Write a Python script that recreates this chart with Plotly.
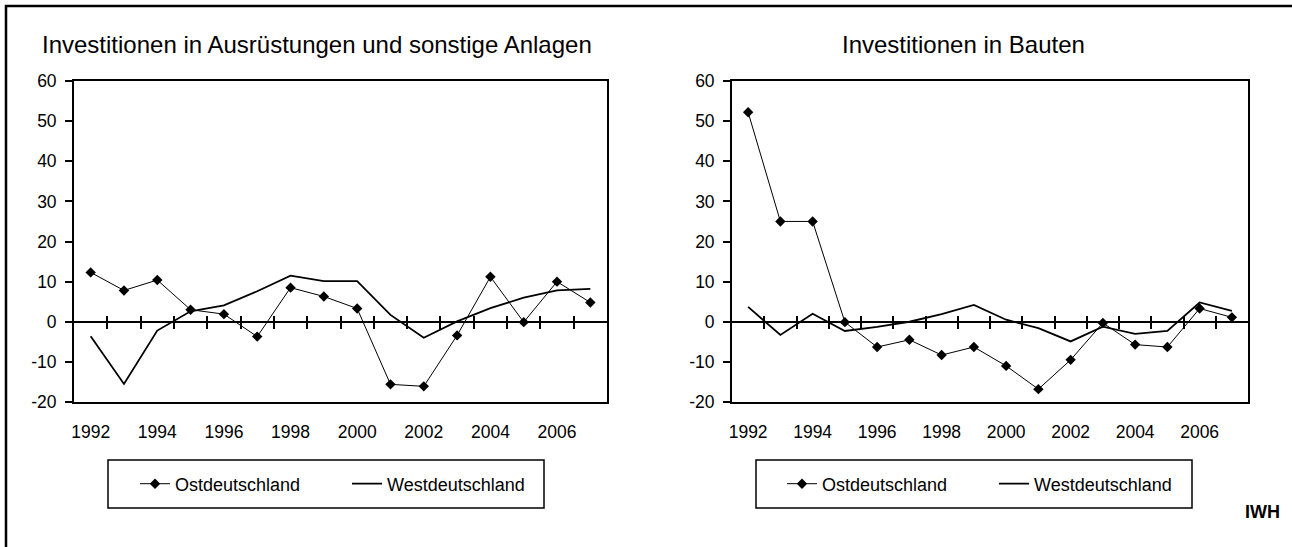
import plotly.graph_objects as go

# Daten (Veränderung gegenüber Vorjahr in %)
jahre = list(range(1992, 2008))
jahr_labels = [1992, 1994, 1996, 1998, 2000, 2002, 2004, 2006]
y_werte = [-20, -10, 0, 10, 20, 30, 40, 50, 60]

ausr_ost = [12.3, 7.8, 10.4, 3.0, 1.9, -3.7, 8.5, 6.3, 3.3, -15.6, -16.1, -3.4, 11.2, -0.1, 10.0, 4.8]
ausr_west = [-3.6, -15.5, -2.2, 2.6, 4.1, 7.6, 11.5, 10.1, 10.1, 1.7, -4.0, 0.1, 3.4, 6.0, 7.8, 8.2]

bau_ost = [52.2, 25.0, 25.0, -0.1, -6.3, -4.5, -8.3, -6.3, -11.0, -16.8, -9.5, -0.3, -5.7, -6.3, 3.3, 1.1]
bau_west = [3.7, -3.3, 2.0, -2.3, -1.3, 0.0, 1.9, 4.2, 0.5, -1.6, -4.9, -1.2, -3.0, -2.3, 4.8, 2.7]

titel_links = "Investitionen in Ausrüstungen und sonstige Anlagen"
titel_rechts = "Investitionen in Bauten"

W, H = 1292, 547
FONT = "Liberation Sans, Arial, sans-serif"


def fx(p):
    return p / W


def fy(p):
    return 1 - p / H


# Plotbereiche in Pixeln
y_top, y_bot = 81, 402
links = (74, 607)
rechts = (732, 1248)
y_min, y_max = y_werte[0], y_werte[-1]
null_frac = fy(y_bot) + (0 - y_min) / (y_max - y_min) * (fy(y_top) - fy(y_bot))

fig = go.Figure()

for i, (ost, west, leg) in enumerate([(ausr_ost, ausr_west, "legend"), (bau_ost, bau_west, "legend2")]):
    xa = "x" if i == 0 else "x2"
    ya = "y" if i == 0 else "y2"
    fig.add_trace(go.Scatter(x=jahre, y=ost, name="Ostdeutschland", mode="lines+markers",
                             line=dict(color="black", width=1),
                             marker=dict(symbol="diamond", size=8, color="black"),
                             xaxis=xa, yaxis=ya, legend=leg))
    fig.add_trace(go.Scatter(x=jahre, y=west, name="Westdeutschland", mode="lines",
                             line=dict(color="black", width=1.8),
                             xaxis=xa, yaxis=ya, legend=leg))

# Hilfsspuren für die Teilstriche auf der Nulllinie
fig.add_trace(go.Scatter(x=[jahre[0]], y=[None], xaxis="x3", yaxis="y", showlegend=False, hoverinfo="skip"))
fig.add_trace(go.Scatter(x=[jahre[0]], y=[None], xaxis="x4", yaxis="y2", showlegend=False, hoverinfo="skip"))

zwischen = [j + 0.5 for j in jahre[:-1]]
xrange = [jahre[0] - 0.5, jahre[-1] + 0.5]

x_common = dict(range=xrange, tickvals=jahr_labels, ticks="", showline=True, mirror=True,
                linecolor="black", linewidth=1.5, showgrid=False, zeroline=False,
                tickfont=dict(family=FONT, size=17.5, color="black"), ticklabelstandoff=13)
y_common = dict(range=[y_min, y_max], tickvals=y_werte, ticktext=[str(v) for v in y_werte],
                ticks="outside", ticklen=7, tickwidth=1.5,
                tickcolor="black", showline=True, mirror=True, linecolor="black", linewidth=1.8,
                showgrid=False, zeroline=True, zerolinecolor="black", zerolinewidth=1.5,
                tickfont=dict(family=FONT, size=17.5, color="black"), ticklabelstandoff=5)
tick_common = dict(range=xrange, tickvals=zwischen, ticks="outside", ticklen=13, tickwidth=1.5,
                   tickcolor="black", showticklabels=False, showline=False, showgrid=False,
                   zeroline=False, anchor="free", position=null_frac + 6.5 / H)

leg_common = dict(orientation="h", yanchor="middle", xanchor="left", bgcolor="rgba(0,0,0,0)",
                  borderwidth=0, font=dict(family=FONT, size=18, color="black"),
                  entrywidth=167, entrywidthmode="pixels", traceorder="normal")

fig.update_layout(
    width=W, height=H, margin=dict(l=0, r=0, t=0, b=0),
    paper_bgcolor="white", plot_bgcolor="white", template="none",
    showlegend=True,
    xaxis=dict(domain=[fx(links[0]), fx(links[1])], anchor="y", **x_common),
    yaxis=dict(domain=[fy(y_bot), fy(y_top)], anchor="x", **y_common),
    xaxis2=dict(domain=[fx(rechts[0]), fx(rechts[1])], anchor="y2", **x_common),
    yaxis2=dict(domain=[fy(y_bot), fy(y_top)], anchor="x2", **y_common),
    xaxis3=dict(overlaying="x", domain=[fx(links[0]), fx(links[1])], **tick_common),
    xaxis4=dict(overlaying="x2", domain=[fx(rechts[0]), fx(rechts[1])], **tick_common),
    legend=dict(x=fx(135), y=fy(484), **leg_common),
    legend2=dict(x=fx(782), y=fy(484), **leg_common),
)

# Rahmen
fig.add_shape(type="rect", xref="paper", yref="paper", x0=fx(6), x1=fx(1305), y0=fy(560), y1=fy(6),
              line=dict(color="black", width=2.5))
fig.add_shape(type="rect", xref="paper", yref="paper", x0=fx(108), x1=fx(544), y0=fy(508), y1=fy(460),
              line=dict(color="black", width=1.5))
fig.add_shape(type="rect", xref="paper", yref="paper", x0=fx(756), x1=fx(1192), y0=fy(508), y1=fy(460),
              line=dict(color="black", width=1.5))

fig.add_annotation(text=titel_links, x=fx(40), y=fy(45), xref="paper", yref="paper",
                   xanchor="left", yanchor="middle", showarrow=False,
                   font=dict(family=FONT, size=24, color="black"))
fig.add_annotation(text=titel_rechts, x=fx(840), y=fy(45), xref="paper", yref="paper",
                   xanchor="left", yanchor="middle", showarrow=False,
                   font=dict(family=FONT, size=24, color="black"))
fig.add_annotation(text="<b>IWH</b>", x=fx(1262), y=fy(512), xref="paper", yref="paper",
                   xanchor="center", yanchor="middle", showarrow=False,
                   font=dict(family=FONT, size=18, color="black"))

# Seitenrand des Browsers entfernen, damit die Pixelpositionen stimmen
fig.write_html("out.html", config={"displayModeBar": False},
               post_script="document.body.style.margin='0';")
